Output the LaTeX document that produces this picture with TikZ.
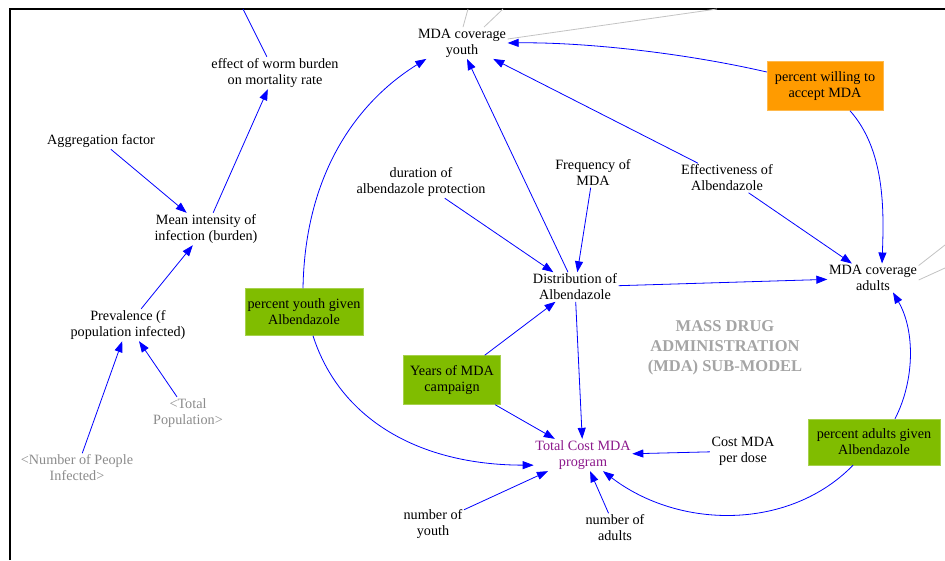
\documentclass[tikz,border=0pt]{standalone}
\usepackage{fontspec}
\setmainfont{Liberation Serif}
\usetikzlibrary{arrows.meta}
\definecolor{linkblue}{RGB}{0,0,255}
\definecolor{boxgreen}{RGB}{128,189,0}
\definecolor{boxorange}{RGB}{255,155,0}
\definecolor{shadowgray}{RGB}{140,140,140}
\definecolor{titlegray}{RGB}{165,165,165}
\definecolor{costpurple}{RGB}{140,25,140}
\definecolor{faintgray}{RGB}{195,195,195}
\tikzset{
  var/.style={align=center, font=\fontsize{14.2}{16}\selectfont, inner sep=1.5pt},
  shadowvar/.style={var, text=shadowgray},
  inputbox/.style={var, minimum width=#1, minimum height=47pt, inner sep=0pt},
  greenbox/.style={inputbox=#1, fill=boxgreen, draw=boxgreen!70!white, line width=0.5pt},
  orangebox/.style={inputbox=#1, fill=boxorange, draw=boxorange!70!white, line width=0.5pt},
  link/.style={draw=linkblue, line width=0.8pt, -{Triangle[length=11pt,width=8pt]}},
  plainlink/.style={draw=linkblue, line width=0.8pt},
  outlink/.style={draw=faintgray, line width=0.8pt},
}
\begin{document}
\begin{tikzpicture}[x=1pt,y=-1pt]
  \useasboundingbox (0,0) rectangle (945,560);
  \fill[white] (0,0) rectangle (945,560);
  % frame of the sketch window
  \draw[line width=2.2pt] (10,560) -- (10,9) -- (945,9);

  % variables
  \node[var] (effect) at (275,73) {effect of worm burden\\on mortality rate};
  \node[var] (agg) at (101,141) {Aggregation factor};
  \node[var] (mean) at (206,229) {Mean intensity of\\infection (burden)};
  \node[var] (prev) at (128,325) {Prevalence (f\\population infected)};
  \node[shadowvar] (totpop) at (188,413) {<Total\\Population>};
  \node[shadowvar] (npi) at (77,468) {<Number of People\\Infected>};
  \node[greenbox=118pt] (pyouth) at (304,312) {percent youth given\\Albendazole};
  \node[var] (covy) at (462,43) {MDA coverage\\youth};
  \node[var] (dur) at (421,182) {duration of\\albendazole protection};
  \node[var] (freq) at (593,173) {Frequency of\\MDA};
  \node[var] (eff) at (727,178) {Effectiveness of\\Albendazole};
  \node[orangebox=116pt, minimum height=49pt] (pwill) at (825,86) {percent willing to\\accept MDA};
  \node[var] (dist) at (575,287) {Distribution of\\Albendazole};
  \node[var] (cova) at (873,278) {MDA coverage\\adults};
  \node[align=center, text=titlegray, font=\fontsize{16.5}{20}\selectfont\bfseries] (title) at (725,348)
    {MASS DRUG\\ADMINISTRATION\\(MDA) SUB-MODEL};
  \node[greenbox=97pt, minimum height=49pt] (years) at (452,380) {Years of MDA\\campaign};
  \node[var, text=costpurple] (cost) at (583,455) {Total Cost MDA\\program};
  \node[var] (cpd) at (743,451) {Cost MDA\\per dose};
  \node[greenbox=132pt, minimum height=46pt] (padult) at (874,442) {percent adults given\\Albendazole};
  \node[var] (nyouth) at (433,524) {number of\\youth};
  \node[var] (nadult) at (615,528) {number of\\adults};

  % loose ends towards the rest of the model
  \coordinate (upA) at (243,9);
  \coordinate (upB) at (468,9);
  \coordinate (upC) at (503,9);
  \coordinate (upD) at (717,9);
  \coordinate (rightA) at (945,245);
  \coordinate (rightB) at (945,268);
  \draw[plainlink] (effect) -- (upA);
  \draw[outlink] ([xshift=1pt]covy.north) -- (upB);
  \draw[outlink] ([xshift=22pt]covy.north) -- (upC);
  \draw[outlink] ([yshift=4pt]covy.east) -- (upD);
  \draw[outlink] ([yshift=-2pt]cova.north east) -- (rightA);
  \draw[outlink] ([yshift=-2pt]cova.east) -- (rightB);

  % infection chain
  \draw[link] (agg) -- (mean);
  \draw[link] (mean) -- (effect);
  \draw[link] (prev) -- (mean);
  \draw[link] (npi) -- (prev);
  \draw[link] (totpop) -- (prev);

  % coverage of youth
  \draw[link] ([xshift=-1pt]pyouth.north) .. controls (305,170) and (360,100) .. ([xshift=10pt]covy.south west);
  \draw[link] (dist) -- ([xshift=5pt]covy.south);
  \draw[link] (eff) -- (covy);
  \draw[link] ([yshift=14pt]pwill.west) .. controls (680,52) and (580,42) .. (covy.east);

  % coverage of adults
  \draw[link] ([xshift=25pt]pwill.south) .. controls (885,150) and (884,210) .. ([xshift=9pt]cova.north);
  \draw[link] (eff) -- (cova);
  \draw[link] (dist) -- (cova);
  \draw[link] ([xshift=21pt]padult.north) .. controls (915,380) and (915,330) .. ([xshift=20pt]cova.south);

  % distribution
  \draw[link] (dur) -- (dist);
  \draw[link] (freq) -- (dist);
  \draw[link] (years) -- (dist);

  % programme cost
  \draw[link] (years) -- (cost);
  \draw[link] (dist) -- (cost);
  \draw[link] (cpd) -- (cost);
  \draw[link] (nyouth) -- (cost);
  \draw[link] (nadult) -- (cost);
  \draw[link] ([xshift=9pt]pyouth.south) .. controls (340,420) and (420,465) .. ([yshift=6pt]cost.south west);
  \draw[link] ([xshift=-21pt]padult.south) .. controls (790,530) and (680,530) .. ([xshift=20pt]cost.south);
\end{tikzpicture}
\end{document}
